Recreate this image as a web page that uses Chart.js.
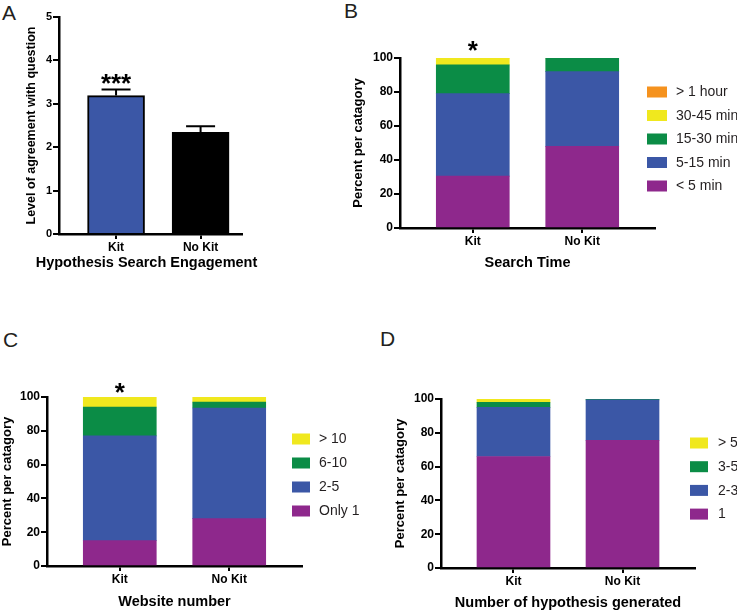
<!DOCTYPE html>
<html lang="en">
<head>
<meta charset="UTF-8">
<title>Hypothesis search with and without kit</title>
<script src="https://cdn.jsdelivr.net/npm/chart.js"></script>
<style>
  body {
    margin: 0;
    background: #fff;
    width: 737px;
    height: 611px;
    position: relative;
    overflow: hidden;
    font-family: 'Liberation Sans', Arial, sans-serif;
  }
  canvas { position: absolute; }
  .tag {
    position: absolute;
    font-size: 21px;
    line-height: 1;
    color: #231f20;
  }
</style>
</head>
<body>
<div class="tag" style="left:2px;top:2px">A</div>
<div class="tag" style="left:344px;top:0px">B</div>
<div class="tag" style="left:3px;top:329px">C</div>
<div class="tag" style="left:380px;top:328px">D</div>

<canvas id="chartA"></canvas>
<canvas id="chartB"></canvas>
<canvas id="chartC"></canvas>
<canvas id="chartD"></canvas>

<script>
// ---- data ----
const groups = ['Kit', 'No Kit'];

const engageMean = [3.19, 2.34];
const engageErr = [0.14, 0.14];
const engageStars = ['***', ''];

const timeLabels = ['< 5 min', '5-15 min', '15-30 min', '30-45 min', '> 1 hour'];
const timeKit = [30.5, 48.5, 17, 4, 0];
const timeNoKit = [48, 44, 8, 0, 0];
const timeStars = ['*', ''];

const siteLabels = ['Only 1', '2-5', '6-10', '> 10'];
const siteKit = [15, 62, 17, 6];
const siteNoKit = [28, 65.5, 3.5, 3];
const siteStars = ['*', ''];

const hypLabels = ['1', '2-3', '3-5', '> 5'];
const hypKit = [66, 29, 3, 2];
const hypNoKit = [75.5, 24, 0.5, 0];
const hypStars = ['', ''];

const percentTicks = [0, 20, 40, 60, 80, 100];
const agreeTicks = [0, 1, 2, 3, 4, 5];

const stackColors = ['#8e288c', '#3b57a6', '#0b8c46', '#f0e81e', '#f5921e'];
const FONT = "'Liberation Sans', Arial, sans-serif";

// error bars, significance stars, legend and (when the axis is too short) the x title
const marksPlugin = {
  id: 'marks',
  afterDraw(chart, args, opts) {
    const ctx = chart.ctx;
    const xs = chart.scales.x, ys = chart.scales.y;
    ctx.save();
    groups.forEach((g, i) => {
      let top = 0;
      chart.data.datasets.forEach(ds => { top += ds.data[i].y; });
      const px = xs.getPixelForValue(i);
      if (opts.errors) {
        const y0 = ys.getPixelForValue(top);
        const y1 = ys.getPixelForValue(top + opts.errors[i]);
        ctx.strokeStyle = '#000';
        ctx.lineWidth = 2;
        ctx.beginPath();
        ctx.moveTo(px, y0); ctx.lineTo(px, y1);
        ctx.moveTo(px - 14.5, y1); ctx.lineTo(px + 14.5, y1);
        ctx.stroke();
        top += opts.errors[i];
      }
      if (opts.stars && opts.stars[i]) {
        ctx.fillStyle = '#000';
        ctx.font = 'bold 26px ' + FONT;
        ctx.textAlign = 'center';
        ctx.textBaseline = 'alphabetic';
        ctx.fillText(opts.stars[i], px, ys.getPixelForValue(top) - opts.starGap + 14);
      }
    });
    if (opts.xTitle) {
      ctx.fillStyle = '#000';
      ctx.font = 'bold 14.5px ' + FONT;
      ctx.textAlign = 'center';
      ctx.textBaseline = 'middle';
      ctx.fillText(opts.xTitle.text, opts.xTitle.x, opts.xTitle.y);
    }
    if (opts.legend) {
      const L = opts.legend;
      const list = chart.data.datasets.slice().reverse();
      ctx.font = '14px ' + FONT;
      ctx.textAlign = 'left';
      ctx.textBaseline = 'middle';
      list.forEach((ds, k) => {
        const cy = L.y + k * L.gap;
        ctx.fillStyle = ds.backgroundColor;
        ctx.fillRect(L.x, cy - L.h / 2, L.w, L.h);
        ctx.fillStyle = '#231f20';
        ctx.fillText(ds.label, L.textX, cy + 0.5);
      });
    }
    ctx.restore();
  }
};

function panel(id, g, datasets, yInfo, xTitle, marks) {
  const c = document.getElementById(id);
  c.width = g.width;
  c.height = g.height;
  c.style.left = g.left + 'px';
  c.style.top = g.top + 'px';

  const yLH = yInfo.titleSize * 1.2;
  const xLH = 14.5 * 1.2;
  const padLeft = Math.max(0, g.yTitleX - yLH / 2 - g.left);
  const yWidth = g.area[0] - g.left - padLeft;
  const xBottom = g.xTitleY + xLH / 2;
  const xHeight = xBottom - g.area[3];

  // legend / title positions are given in page coordinates
  if (marks.legend) {
    marks.legend.x -= g.left; marks.legend.textX -= g.left; marks.legend.y -= g.top;
  }
  const ownTitle = !!g.titleX;
  if (ownTitle) {
    marks.xTitle = { text: xTitle, x: g.titleX - g.left, y: g.xTitleY - g.top };
  }

  return new Chart(c, {
    type: 'bar',
    data: { datasets: datasets },
    plugins: [marksPlugin],
    options: {
      responsive: false,
      animation: false,
      layout: {
        padding: {
          left: padLeft,
          top: g.area[1] - g.top,
          right: g.left + g.width - g.area[2],
          bottom: g.top + g.height - xBottom
        }
      },
      plugins: {
        legend: { display: false },
        tooltip: { enabled: false },
        marks: marks
      },
      scales: {
        x: {
          type: 'linear',
          stacked: true,
          offset: false,
          min: g.xRange[0],
          max: g.xRange[1],
          z: 1,
          afterBuildTicks: axis => { axis.ticks = groups.map((n, i) => ({ value: i })); },
          afterFit: axis => { axis.height = xHeight; },
          ticks: {
            callback: v => groups[v],
            color: '#000',
            padding: 1.5,
            font: { family: FONT, size: 12, weight: 'bold' }
          },
          grid: { offset: false, drawOnChartArea: false, drawTicks: true, tickLength: 5, color: '#000', lineWidth: 2 },
          border: { display: true, color: '#000', width: 2.5 },
          title: {
            display: !ownTitle,
            text: xTitle,
            color: '#000',
            padding: 0,
            font: { family: FONT, size: 14.5, weight: 'bold' }
          }
        },
        y: {
          stacked: true,
          min: 0,
          max: yInfo.ticks[yInfo.ticks.length - 1],
          z: 1,
          afterBuildTicks: axis => { axis.ticks = yInfo.ticks.map(v => ({ value: v })); },
          afterFit: axis => { axis.width = yWidth; },
          ticks: {
            color: '#000',
            padding: 1,
            font: { family: FONT, size: yInfo.tickSize, weight: 'bold' }
          },
          grid: { drawOnChartArea: false, drawTicks: true, tickLength: 6, color: '#000', lineWidth: 2 },
          border: { display: true, color: '#000', width: 2.5 },
          title: {
            display: true,
            text: yInfo.title,
            color: '#000',
            padding: 0,
            font: { family: FONT, size: yInfo.titleSize, weight: 'bold' }
          }
        }
      }
    }
  });
}

function stacked(labels, kit, noKit) {
  return labels.map((lab, k) => ({
    label: lab,
    data: [kit[k], noKit[k]].map((v, i) => ({ x: i, y: v })),
    backgroundColor: stackColors[k],
    borderWidth: 0,
    barThickness: 73
  }));
}

const pctY = { ticks: percentTicks, title: 'Percent per catagory', titleSize: 13, tickSize: 12 };

// A
panel('chartA',
  { left: 0, top: 0, width: 258, height: 290, area: [59, 17, 242, 234], yTitleX: 32, xTitleY: 263, titleX: 146.5, xRange: [-0.675, 1.49] },
  [{
    label: 'Level of agreement',
    data: engageMean.map((v, i) => ({ x: i, y: v })),
    backgroundColor: ['#3b57a6', '#000'],
    borderColor: '#000',
    borderWidth: 2,
    barThickness: 57
  }],
  { ticks: agreeTicks, title: 'Level of agreement with question', titleSize: 12.5, tickSize: 11 },
  'Hypothesis Search Engagement',
  { errors: engageErr, stars: engageStars, starGap: 11 }
);

// B
panel('chartB',
  { left: 340, top: 0, width: 397, height: 290, area: [400, 58, 655, 228], yTitleX: 358, xTitleY: 263, xRange: [-0.665, 1.665] },
  stacked(timeLabels, timeKit, timeNoKit),
  pctY,
  'Search Time',
  { stars: timeStars, starGap: 13, legend: { x: 647, y: 92, gap: 23.5, w: 20, h: 11, textX: 676 } }
);

// C
panel('chartC',
  { left: 0, top: 295, width: 370, height: 316, area: [47, 397, 302, 566], yTitleX: 7.5, xTitleY: 602, xRange: [-0.665, 1.665] },
  stacked(siteLabels, siteKit, siteNoKit),
  pctY,
  'Website number',
  { stars: siteStars, starGap: 10, legend: { x: 292, y: 439, gap: 24, w: 18, h: 11, textX: 319 } }
);

// D
panel('chartD',
  { left: 370, top: 295, width: 367, height: 316, area: [441, 399, 695, 568], yTitleX: 400.5, xTitleY: 603, xRange: [-0.665, 1.665] },
  stacked(hypLabels, hypKit, hypNoKit),
  pctY,
  'Number of hypothesis generated',
  { stars: hypStars, starGap: 10, legend: { x: 690, y: 443, gap: 23.7, w: 18, h: 11, textX: 718 } }
);
</script>
</body>
</html>
